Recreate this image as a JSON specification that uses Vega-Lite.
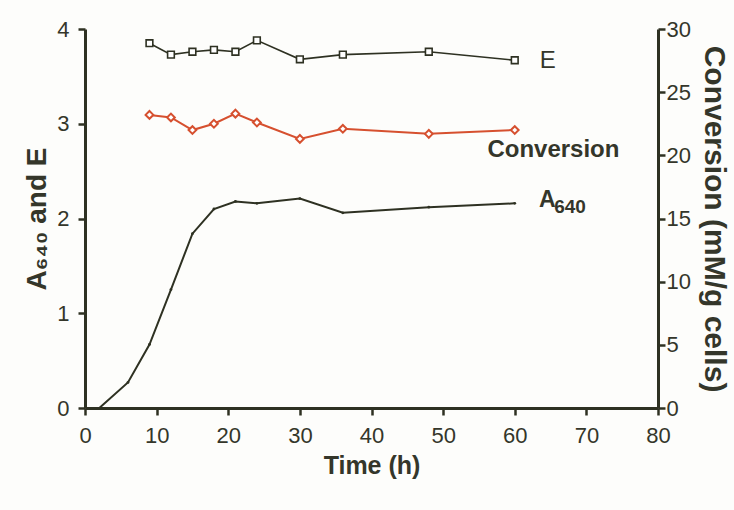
{
  "$schema": "https://vega.github.io/schema/vega-lite/v6.json",
  "width": 573,
  "height": 379,
  "autosize": "none",
  "padding": {"left": 85, "top": 29, "right": 76, "bottom": 102},
  "background": "#fdfdfb",
  "config": {
    "font": "Liberation Sans",
    "view": {"stroke": null},
    "axis": {
      "grid": false,
      "domainColor": "#2e3122",
      "domainWidth": 3,
      "tickColor": "#2e3122",
      "tickWidth": 2.5,
      "tickSize": 7,
      "labelFont": "Liberation Sans",
      "labelFontSize": 22,
      "labelColor": "#34362a",
      "labelFlush": false,
      "titleFont": "Liberation Sans",
      "titleFontWeight": "bold",
      "titleColor": "#34362a"
    }
  },
  "datasets": {
    "series": [
      {"series": "A640", "time": 2, "value": 0},
      {"series": "A640", "time": 6, "value": 0.27},
      {"series": "A640", "time": 9, "value": 0.67},
      {"series": "A640", "time": 12, "value": 1.25},
      {"series": "A640", "time": 15, "value": 1.84},
      {"series": "A640", "time": 18, "value": 2.1},
      {"series": "A640", "time": 21, "value": 2.18},
      {"series": "A640", "time": 24, "value": 2.16},
      {"series": "A640", "time": 30, "value": 2.21},
      {"series": "A640", "time": 36, "value": 2.06},
      {"series": "A640", "time": 48, "value": 2.12},
      {"series": "A640", "time": 60, "value": 2.16},
      {"series": "E", "time": 9, "value": 3.85},
      {"series": "E", "time": 12, "value": 3.73},
      {"series": "E", "time": 15, "value": 3.76},
      {"series": "E", "time": 18, "value": 3.78},
      {"series": "E", "time": 21, "value": 3.76},
      {"series": "E", "time": 24, "value": 3.88},
      {"series": "E", "time": 30, "value": 3.68},
      {"series": "E", "time": 36, "value": 3.73},
      {"series": "E", "time": 48, "value": 3.76},
      {"series": "E", "time": 60, "value": 3.67},
      {"series": "Conversion", "time": 9, "value": 23.2},
      {"series": "Conversion", "time": 12, "value": 23.0},
      {"series": "Conversion", "time": 15, "value": 22.0},
      {"series": "Conversion", "time": 18, "value": 22.5},
      {"series": "Conversion", "time": 21, "value": 23.3},
      {"series": "Conversion", "time": 24, "value": 22.6},
      {"series": "Conversion", "time": 30, "value": 21.3},
      {"series": "Conversion", "time": 36, "value": 22.1},
      {"series": "Conversion", "time": 48, "value": 21.7},
      {"series": "Conversion", "time": 60, "value": 22.0}
    ],
    "labels": [
      {"label": "E", "time": 63.5, "value": 3.59},
      {"label": "Conversion", "time": 65.4, "value": 2.65},
      {"label": "A", "time": 63.4, "value": 2.12},
      {"label": "640", "time": 65.5, "value": 2.06}
    ]
  },
  "layer": [
    {
      "data": {"name": "series"},
      "encoding": {
        "x": {"field": "time", "type": "quantitative", "scale": {"domain": [0, 80], "nice": false}, "axis": {"values": [0, 10, 20, 30, 40, 50, 60, 70, 80], "title": "Time (h)", "titleFontSize": 25, "labelPadding": 10, "titlePadding": 7}},
        "y": {"field": "value", "type": "quantitative", "scale": {"domain": [0, 4], "nice": false}, "axis": {"orient": "left", "values": [0, 1, 2, 3, 4], "title": "A₆₄₀ and E", "titleFontSize": 28, "labelPadding": 9, "titlePadding": 5}}
      },
      "layer": [
        {
          "transform": [{"filter": "datum.series === 'A640'"}],
          "mark": {"type": "line", "color": "#2e3122", "strokeWidth": 2}
        },
        {
          "transform": [{"filter": "datum.series === 'A640' && datum.time > 5"}],
          "mark": {"type": "point", "shape": "circle", "size": 8, "filled": true, "color": "#2e3122", "opacity": 1}
        },
        {
          "transform": [{"filter": "datum.series === 'E'"}],
          "mark": {"type": "line", "color": "#2e3122", "strokeWidth": 1.6}
        },
        {
          "transform": [{"filter": "datum.series === 'E'"}],
          "mark": {"type": "point", "shape": "square", "size": 45, "filled": true, "fill": "#ffffff", "stroke": "#2e3122", "strokeWidth": 1.6, "opacity": 1}
        },
        {
          "data": {"name": "labels"},
          "transform": [{"filter": "datum.label === 'E'"}],
          "mark": {"type": "text", "color": "#34362a", "baseline": "alphabetic", "align": "left", "fontSize": 24},
          "encoding": {"text": {"field": "label"}}
        },
        {
          "data": {"name": "labels"},
          "transform": [{"filter": "datum.label === 'Conversion'"}],
          "mark": {"type": "text", "color": "#34362a", "baseline": "alphabetic", "align": "center", "fontSize": 24, "fontWeight": "bold"},
          "encoding": {"text": {"field": "label"}}
        },
        {
          "data": {"name": "labels"},
          "transform": [{"filter": "datum.label === 'A'"}],
          "mark": {"type": "text", "color": "#34362a", "baseline": "alphabetic", "align": "left", "fontSize": 23, "fontWeight": "bold"},
          "encoding": {"text": {"field": "label"}}
        },
        {
          "data": {"name": "labels"},
          "transform": [{"filter": "datum.label === '640'"}],
          "mark": {"type": "text", "color": "#34362a", "baseline": "alphabetic", "align": "left", "fontSize": 19, "fontWeight": "bold"},
          "encoding": {"text": {"field": "label"}}
        }
      ]
    },
    {
      "data": {"name": "series"},
      "transform": [{"filter": "datum.series === 'Conversion'"}],
      "encoding": {
        "x": {"field": "time", "type": "quantitative"},
        "y": {"field": "value", "type": "quantitative", "scale": {"domain": [0, 30], "nice": false}, "axis": {"orient": "right", "values": [0, 5, 10, 15, 20, 25, 30], "title": "Conversion (mM/g cells)", "titleFontSize": 30, "labelPadding": 1, "titlePadding": 8}}
      },
      "layer": [
        {"mark": {"type": "line", "color": "#d6502f", "strokeWidth": 2}},
        {"mark": {"type": "point", "shape": "diamond", "size": 60, "filled": true, "fill": "#ffffff", "stroke": "#d6502f", "strokeWidth": 2, "opacity": 1}}
      ]
    }
  ],
  "resolve": {"scale": {"y": "independent"}}
}
